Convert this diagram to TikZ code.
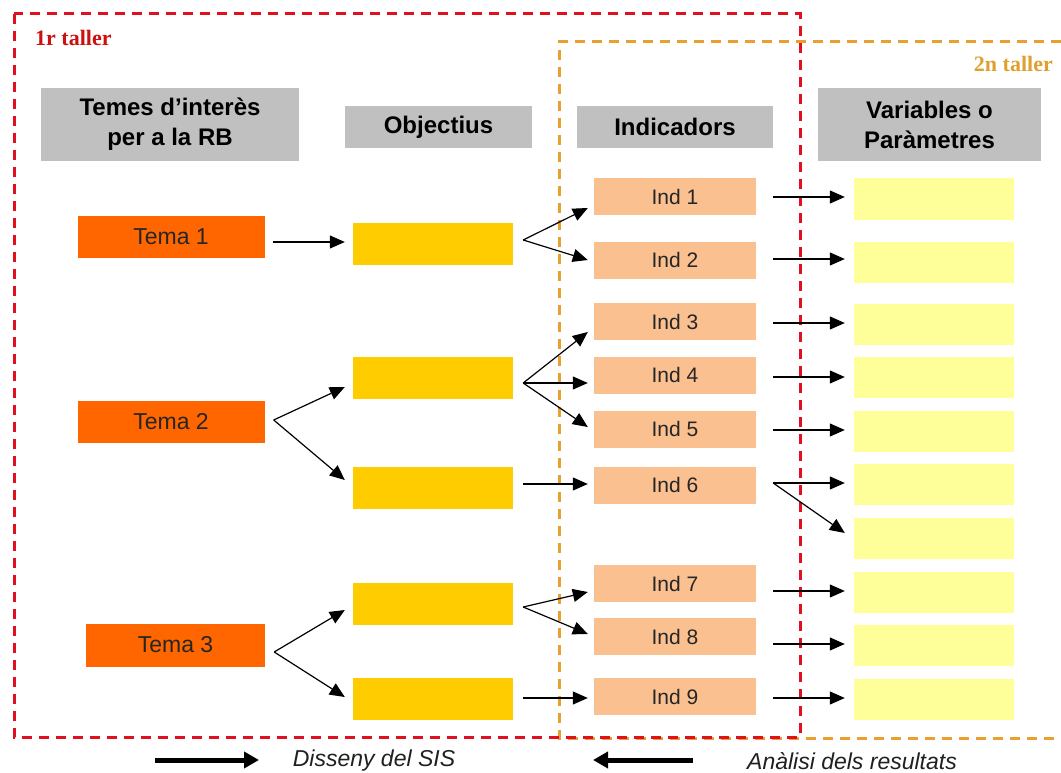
\documentclass[tikz,border=0pt]{standalone}
\usepackage{fontspec}
\setmainfont{Liberation Sans}
\newfontfamily\tallerfont{Liberation Serif}
\usetikzlibrary{arrows.meta}
\definecolor{hdrc}{HTML}{C0C0C0}
\definecolor{temac}{HTML}{FF6600}
\definecolor{objc}{HTML}{FFCC00}
\definecolor{indc}{HTML}{FAC090}
\definecolor{varc}{HTML}{FFFF99}
\definecolor{redframe}{HTML}{E01020}
\definecolor{orframe}{HTML}{E8A030}
\definecolor{redtxt}{HTML}{CC1010}
\definecolor{ortxt}{HTML}{E0A030}
\definecolor{legtxt}{HTML}{202020}
\begin{document}
\begin{tikzpicture}[x=1pt,y=-1pt,
  box/.style={rectangle, inner sep=0pt, draw=none, text=black},
  hdrbox/.style={box, fill=hdrc, align=center, font=\fontsize{24}{30}\selectfont\bfseries},
  tema/.style={box, fill=temac, minimum width=187pt, minimum height=42pt, font=\fontsize{23}{26}\selectfont, text=black!85},
  obj/.style={box, fill=objc, minimum width=160pt, minimum height=42pt},
  ind/.style={box, fill=indc, minimum width=162pt, minimum height=37pt, font=\fontsize{21}{24}\selectfont, text=black!85},
  varbox/.style={box, fill=varc, minimum width=160pt, minimum height=41pt},
  arr/.style={-{Triangle[length=15pt,width=13pt]}, line width=1.2pt},
  bigarr/.style={-{Triangle[length=15pt,width=16pt]}, line width=5pt},
  redframestyle/.style={draw=redframe, line width=3pt, dash pattern=on 10pt off 7pt},
  orframestyle/.style={draw=orframe, line width=3pt, dash pattern=on 10pt off 7pt},
  legend/.style={font=\fontsize{23}{26}\selectfont\itshape, text=legtxt, inner sep=0pt}
]
\useasboundingbox (0,0) rectangle (1061,773);
\fill[white] (0,0) rectangle (1061,773);

% frames
\draw[orframestyle] (1061,42) -- (559,42) -- (559,738) -- (1061,738);
\draw[redframestyle] (14,14) rectangle (800,737);

\node[font=\tallerfont\fontsize{22}{24}\selectfont\bfseries, text=redtxt, anchor=west, inner sep=0pt] (t1lab) at (35,38) {1r taller};
\node[font=\tallerfont\fontsize{22}{24}\selectfont\bfseries, text=ortxt, anchor=east, inner sep=0pt] (t2lab) at (1053,64) {2n taller};

% headers
\node[hdrbox, minimum width=258pt, minimum height=73pt] (h1) at (170,124.5) {Temes d’interès\\per a la RB};
\node[hdrbox, minimum width=187pt, minimum height=42pt] (h2) at (438.5,127) {Objectius};
\node[hdrbox, minimum width=196pt, minimum height=42pt] (h3) at (675,127) {Indicadors};
\node[hdrbox, minimum width=223pt, minimum height=73pt] (h4) at (929.5,124.5) {Variables o\\Paràmetres};

% temes
\node[tema] (t1) at (171,237) {Tema 1};
\node[tema] (t2) at (171,422) {Tema 2};
\node[tema, minimum width=179pt, minimum height=43pt] (t3) at (175.5,645) {Tema 3};

% objectius
\node[obj] (o1) at (433,243.5) {};
\node[obj] (o2) at (433,378) {};
\node[obj] (o3) at (433,488) {};
\node[obj] (o4) at (433,603.5) {};
\node[obj] (o5) at (433,699) {};

% indicadors
\node[ind] (i1) at (675,197) {Ind 1};
\node[ind] (i2) at (675,260) {Ind 2};
\node[ind] (i3) at (675,321.5) {Ind 3};
\node[ind] (i4) at (675,375) {Ind 4};
\node[ind] (i5) at (675,429) {Ind 5};
\node[ind] (i6) at (675,485) {Ind 6};
\node[ind] (i7) at (675,583.5) {Ind 7};
\node[ind] (i8) at (675,636.5) {Ind 8};
\node[ind] (i9) at (675,696.5) {Ind 9};

% variables
\node[varbox] (v1) at (933.6,199) {};
\node[varbox] (v2) at (933.6,262) {};
\node[varbox] (v3) at (933.6,324) {};
\node[varbox] (v4) at (933.6,377.5) {};
\node[varbox] (v5) at (933.6,431.5) {};
\node[varbox] (v6) at (933.6,484.5) {};
\node[varbox] (v7) at (933.6,538) {};
\node[varbox] (v8) at (933.6,592) {};
\node[varbox] (v9) at (933.6,645.5) {};
\node[varbox] (v10) at (933.6,699) {};

% tema -> objectius
\draw[arr] ([xshift=8pt,yshift=-5pt]t1.east) -- ([xshift=-8pt,yshift=1.5pt]o1.west);
\draw[arr] ([xshift=9pt,yshift=2pt]t2.east) -- ([xshift=-8pt,yshift=-9pt]o2.west);
\draw[arr] ([xshift=9pt,yshift=2pt]t2.east) -- ([xshift=-8pt,yshift=8pt]o3.west);
\draw[arr] ([xshift=9pt,yshift=-7pt]t3.east) -- ([xshift=-8pt,yshift=-6.5pt]o4.west);
\draw[arr] ([xshift=9pt,yshift=-7pt]t3.east) -- ([xshift=-8pt,yshift=2pt]o5.west);

% objectius -> indicadors
\draw[arr] ([xshift=10pt,yshift=3.5pt]o1.east) -- ([xshift=-6pt,yshift=-11pt]i1.west);
\draw[arr] ([xshift=10pt,yshift=3.5pt]o1.east) -- ([xshift=-6pt]i2.west);
\draw[arr] ([xshift=10pt,yshift=-5pt]o2.east) -- ([xshift=-6pt,yshift=-10.5pt]i3.west);
\draw[arr] ([xshift=10pt,yshift=-5pt]o2.east) -- ([xshift=-6pt,yshift=-8pt]i4.west);
\draw[arr] ([xshift=10pt,yshift=-5pt]o2.east) -- ([xshift=-6pt,yshift=2pt]i5.west);
\draw[arr] ([xshift=10pt,yshift=4pt]o3.east) -- ([xshift=-6pt,yshift=1pt]i6.west);
\draw[arr] ([xshift=10pt,yshift=-3.5pt]o4.east) -- ([xshift=-6pt,yshift=-8.5pt]i7.west);
\draw[arr] ([xshift=10pt,yshift=-3.5pt]o4.east) -- ([xshift=-6pt,yshift=2.5pt]i8.west);
\draw[arr] ([xshift=10pt,yshift=1pt]o5.east) -- ([xshift=-6pt,yshift=-1.5pt]i9.west);

% indicadors -> variables
\draw[arr] ([xshift=17pt]i1.east) -- ([xshift=-8.6pt,yshift=2pt]v1.west);
\draw[arr] ([xshift=17pt,yshift=1pt]i2.east) -- ([xshift=-8.6pt,yshift=3pt]v2.west);
\draw[arr] ([xshift=17pt,yshift=-1.5pt]i3.east) -- ([xshift=-8.6pt,yshift=1pt]v3.west);
\draw[arr] ([xshift=17pt,yshift=-2pt]i4.east) -- ([xshift=-8.6pt,yshift=0.5pt]v4.west);
\draw[arr] ([xshift=17pt,yshift=-1pt]i5.east) -- ([xshift=-8.6pt,yshift=1.5pt]v5.west);
\draw[arr] ([xshift=17pt,yshift=2pt]i6.east) -- ([xshift=-8.6pt,yshift=1.5pt]v6.west);
\draw[arr] ([xshift=17pt,yshift=2pt]i6.east) -- ([xshift=-8.6pt,yshift=5pt]v7.west);
\draw[arr] ([xshift=17pt,yshift=-7.5pt]i7.east) -- ([xshift=-8.6pt,yshift=1pt]v8.west);
\draw[arr] ([xshift=17pt,yshift=-7.5pt]i8.east) -- ([xshift=-8.6pt,yshift=1.5pt]v9.west);
\draw[arr] ([xshift=17pt,yshift=-1.5pt]i9.east) -- ([xshift=-8.6pt,yshift=1pt]v10.west);

% legend
\coordinate (la1) at (155,760);
\coordinate (lb1) at (259,760);
\coordinate (la2) at (693,760);
\coordinate (lb2) at (593,760);
\draw[bigarr] (la1) -- (lb1);
\draw[bigarr] (la2) -- (lb2);
\node[legend] (leg1) at (374,761) {Disseny del SIS};
\node[legend] (leg2) at (852,761) {Anàlisi dels resultats};
\end{tikzpicture}
\end{document}
